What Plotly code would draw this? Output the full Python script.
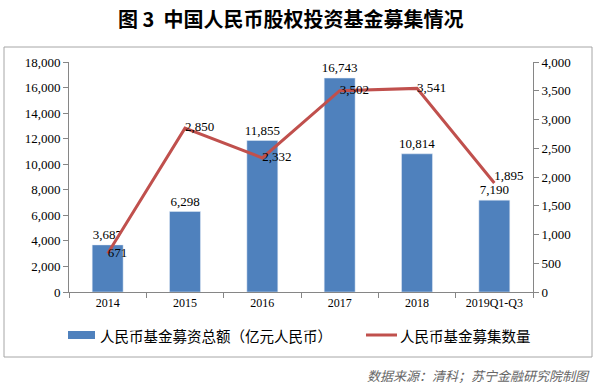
import plotly.graph_objects as go

categories = ["2014", "2015", "2016", "2017", "2018", "2019Q1-Q3"]
fund_amount = [3687, 6298, 11855, 16743, 10814, 7190]
fund_count = [671, 2850, 2332, 3502, 3541, 1895]
left_ticks = list(range(0, 18001, 2000))
right_ticks = list(range(0, 4001, 500))
bar_name = "人民币基金募资总额（亿元人民币）"
line_name = "人民币基金募集数量"

serif = "Liberation Serif, Times New Roman, serif"
cjk = "Noto Sans CJK SC, sans-serif"
bar_color = "#4F81BD"
line_color = "#C0504D"

fig = go.Figure()
fig.add_trace(go.Bar(
    x=categories, y=fund_amount, name=bar_name, showlegend=False,
    marker=dict(color=bar_color), width=0.4,
    text=[f"{v:,}" for v in fund_amount], textposition="outside", constraintext="none",
    textfont=dict(family=serif, size=13, color="black"), cliponaxis=False,
))
fig.add_trace(go.Scatter(
    x=categories, y=fund_count, name=line_name, yaxis="y2", showlegend=False,
    mode="lines+text", line=dict(color=line_color, width=3),
    text=[f"{v:,}" for v in fund_count],
    textposition=["middle right", "middle right", "middle right", "middle right", "middle right", "top right"],
    textfont=dict(family=serif, size=13, color="black"), cliponaxis=False,
))

W, H = 464, 230  # plot area size in px
L, T = 69, 62    # plot area offset in px


def px(x):
    return (x - L) / W


def py(y):
    return (T + H - y) / H


axis_color = "#868686"
fig.update_layout(
    width=597, height=387,
    margin=dict(l=L, r=597 - L - W, t=T, b=387 - T - H, autoexpand=False),
    paper_bgcolor="white", plot_bgcolor="white",
    showlegend=False,
    xaxis=dict(showline=True, linecolor=axis_color, ticks="outside", tickson="boundaries",
               ticklen=5, tickcolor=axis_color, tickfont=dict(family=serif, size=12, color="black"),
               showgrid=False),
    yaxis=dict(range=[0, 18000], tickvals=left_ticks, tickformat=",", showline=True,
               linecolor=axis_color, ticks="outside", ticklen=5, tickcolor=axis_color,
               tickfont=dict(family=serif, size=13, color="black"), showgrid=False, zeroline=False),
    yaxis2=dict(range=[0, 4000], tickvals=right_ticks, tickformat=",", overlaying="y", side="right",
                showline=True, linecolor=axis_color, ticks="outside", ticklen=5, tickcolor=axis_color,
                tickfont=dict(family=serif, size=13, color="black"), showgrid=False, zeroline=False),
    annotations=[
        dict(text="<b>图 3  中国人民币股权投资基金募集情况</b>", xref="paper", yref="paper",
             x=px(290), y=py(19), xanchor="center", yanchor="middle",
             showarrow=False, font=dict(family=cjk, size=20, color="black")),
        dict(text=bar_name, xref="paper", yref="paper", x=px(98), y=py(335),
             xanchor="left", yanchor="middle", showarrow=False,
             font=dict(family=cjk, size=14.5, color="black")),
        dict(text=line_name, xref="paper", yref="paper", x=px(398), y=py(335),
             xanchor="left", yanchor="middle", showarrow=False,
             font=dict(family=cjk, size=14.5, color="black")),
        dict(text="<i>数据来源：清科；苏宁金融研究院制图</i>", xref="paper", yref="paper",
             x=px(592), y=py(375), xanchor="right", yanchor="middle",
             showarrow=False, font=dict(family=cjk, size=13, color="#666666")),
    ],
    shapes=[
        dict(type="rect", xref="paper", yref="paper",
             x0=px(4), x1=px(592), y0=py(357), y1=py(47),
             line=dict(color="#A6A6A6", width=1), fillcolor="rgba(0,0,0,0)", layer="below"),
        # legend swatches
        dict(type="rect", xref="paper", yref="paper",
             x0=px(68), x1=px(95), y0=py(339), y1=py(331),
             line=dict(width=0), fillcolor=bar_color),
        dict(type="line", xref="paper", yref="paper",
             x0=px(366), x1=px(397), y0=py(335), y1=py(335),
             line=dict(color=line_color, width=3)),
    ],
)

fig.write_html("out.html", config={"displayModeBar": False},
               post_script="document.body.style.margin='0';")
